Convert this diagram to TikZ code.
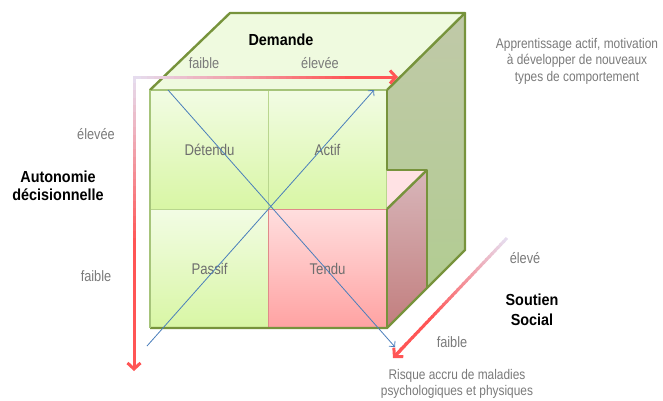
\documentclass[tikz,border=0pt]{standalone}
\usepackage{fontspec}
\setmainfont{Liberation Sans}
\newfontfamily\narrowreg{Liberation Sans}[FakeStretch=0.85]
\newfontfamily\narrowbold{Liberation Sans Bold}[FakeStretch=0.9]
\usetikzlibrary{arrows.meta,calc}
\definecolor{dkgreen}{HTML}{77933C}
\definecolor{mdgreen}{HTML}{A6C47A}
\definecolor{ltgreen}{HTML}{B9D68E}
\definecolor{topface}{HTML}{EFFADF}
\definecolor{cellgtop}{HTML}{F2FCE4}
\definecolor{cellgbot}{HTML}{D8F6A4}
\definecolor{cellptop}{HTML}{FFDEDE}
\definecolor{cellpbot}{HTML}{FFA2A2}
\definecolor{cellpline}{HTML}{E08A8A}
\definecolor{sidegtop}{HTML}{C0C9A8}
\definecolor{sidegbot}{HTML}{B2CC92}
\definecolor{sideptop}{HTML}{D8B6BA}
\definecolor{sidepbot}{HTML}{C27E7E}
\definecolor{pinktri}{HTML}{FFE2E4}
\definecolor{axred}{HTML}{FF5555}
\definecolor{axlav}{HTML}{E6DCEE}
\definecolor{blueline}{HTML}{4A7EBB}
\definecolor{graytxt}{HTML}{7A7A7A}
\definecolor{celltxt}{HTML}{6E6E6E}
\begin{document}
\begin{tikzpicture}[x=1pt,y=-1pt,
  edge/.style={draw=dkgreen,line width=2.4pt,line join=round},
  greencell/.style={top color=cellgtop,bottom color=cellgbot,draw=ltgreen,line width=1.1pt,
    minimum width=118pt,minimum height=119pt,inner sep=0pt,anchor=north west,
    text=celltxt,font=\narrowreg\fontsize{15.5}{17}\selectfont},
  pinkcell/.style={greencell,top color=cellptop,bottom color=cellpbot,draw=cellpline},
  graylbl/.style={text=graytxt,font=\narrowreg\fontsize{15}{17}\selectfont,inner sep=0pt},
  boldlbl/.style={text=black,font=\narrowbold\fontsize{16}{19}\selectfont,inner sep=0pt,align=center},
  notelbl/.style={text=graytxt,font=\narrowreg\fontsize{14}{16.5}\selectfont,inner sep=0pt,align=center},
  diag/.style={draw=blueline,line width=0.8pt,-{Straight Barb[length=4pt,width=8pt]}},
  axtip/.style={draw=axred,line width=3pt,-{Straight Barb[length=6pt,width=13pt]}}
]
\useasboundingbox (0,0) rectangle (663,400);

% ---- right side face (green, with notch)
\shade[top color=sidegtop,bottom color=sidegbot]
  (387,90) -- (465,13) -- (465,250) -- (427,287) -- (427,170) -- (387,170) -- cycle;
% pink block visible parts
\fill[pinktri] (387,170) -- (427,170) -- (387,209) -- cycle;
\shade[top color=sideptop,bottom color=sidepbot]
  (387,209) -- (427,170) -- (427,287) -- (387,328) -- cycle;
% top face
\fill[topface] (150,90) -- (230,13) -- (465,13) -- (387,90) -- cycle;

% ---- front cells
\node[greencell] (detendu) at (150,90) {Détendu};
\node[greencell] (actif) at (268,90) {Actif};
\node[greencell] (passif) at (150,209) {Passif};
\node[pinkcell] (tendu) at (268,209) {Tendu};

% ---- outlines
\draw[mdgreen,line width=1.4pt] (detendu.south west) -- (detendu.north west) -- (actif.north east);
\draw[edge] (150,90) -- (230,13) -- (465,13) -- (387,90);
\draw[edge] (465,13) -- (465,250) -- (387,328) -- (150,328);
\draw[edge] (387,90) -- (387,170) -- (427,170) -- (427,287);
\draw[edge] (427,170) -- (387,209);
\draw[edge] (387,209) -- (387,328);
\draw[mdgreen,line width=1.4pt] (150,90) -- (150,328);

% ---- blue diagonals
\coordinate (d1s) at (168,90);
\coordinate (d1e) at (395,347);
\coordinate (d2s) at (147,346);
\coordinate (d2e) at (374,90);
\draw[diag] (d1s) -- (d1e);
\draw[diag] (d2s) -- (d2e);

% ---- gradient axes
\coordinate (hA) at (134,77);
\coordinate (hB) at (398,77);
\coordinate (vA) at (134,75.5);
\coordinate (vB) at (134,371);
\coordinate (sA) at (507,238);
\coordinate (sB) at (393,358);

\foreach \i in {0,...,39} {
  \pgfmathsetmacro\ta{\i/40}
  \pgfmathsetmacro\tb{min(0.94,(\i+1.4)/40)}
  \pgfmathtruncatemacro\pc{min(100,\i*100/32)}
  \draw[line width=3pt,color=axred!\pc!axlav] ($(hA)!\ta!(hB)$) -- ($(hA)!\tb!(hB)$);
}
\draw[axtip] ($(hA)!0.9!(hB)$) -- (hB);

\foreach \i in {0,...,39} {
  \pgfmathsetmacro\ta{\i/40}
  \pgfmathsetmacro\tb{min(0.94,(\i+1.4)/40)}
  \pgfmathtruncatemacro\pc{min(100,\i*100/22)}
  \draw[line width=3pt,color=axred!\pc!axlav] ($(vA)!\ta!(vB)$) -- ($(vA)!\tb!(vB)$);
}
\draw[axtip] ($(vA)!0.9!(vB)$) -- (vB);

\foreach \i in {0,...,39} {
  \pgfmathsetmacro\ta{\i/40}
  \pgfmathsetmacro\tb{min(0.92,(\i+1.4)/40)}
  \pgfmathtruncatemacro\pc{min(100,\i*100/26)}
  \draw[line width=3pt,color=axred!\pc!axlav] ($(sA)!\ta!(sB)$) -- ($(sA)!\tb!(sB)$);
}
\draw[axtip] ($(sA)!0.88!(sB)$) -- (sB);

% ---- labels
\node[boldlbl] (demande) at (281,40) {Demande};
\node[graylbl] (dfaible) at (204,63) {faible};
\node[graylbl] (delevee) at (320,63) {élevée};
\node[notelbl] (actifnote) at (577,61) {Apprentissage actif, motivation\\à développer de nouveaux\\types de comportement};

\node[graylbl] (aelevee) at (96,134) {élevée};
\node[boldlbl,font=\narrowbold\fontsize{16}{18.5}\selectfont] (autonomie) at (58,186) {Autonomie\\décisionnelle};
\node[graylbl] (afaible) at (96,276) {faible};

\node[graylbl] (selevee) at (525,258) {élevé};
\node[boldlbl,font=\narrowbold\fontsize{16}{20}\selectfont] (soutien) at (532,310) {Soutien\\Social};
\node[graylbl] (sfaible) at (452,342) {faible};
\node[notelbl] (risque) at (457,384) {Risque accru de maladies\\psychologiques et physiques};
\end{tikzpicture}
\end{document}
